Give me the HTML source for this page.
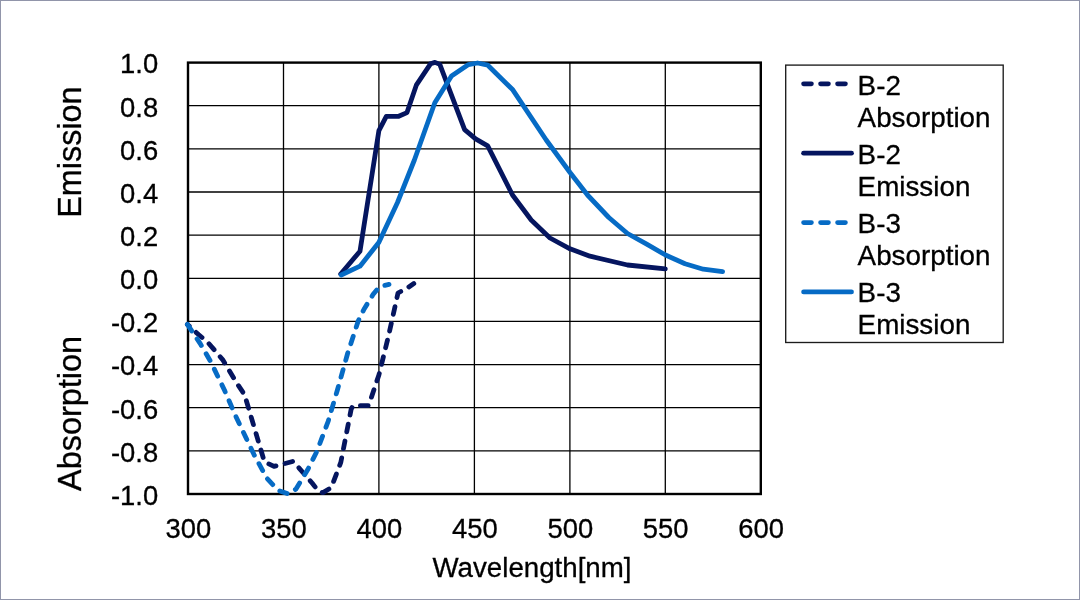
<!DOCTYPE html>
<html lang="en"><head><meta charset="utf-8"><title>Emission / Absorption spectra</title>
<style>
html,body{margin:0;padding:0;background:#fff;}
body{width:1080px;height:600px;overflow:hidden;position:relative;}
svg{position:absolute;left:0;top:0;display:block;}
text{font-family:"Liberation Sans",Arial,sans-serif;fill:#000;stroke:#000;stroke-width:0.3px;}
.tk{font-size:27.4px;}
.yl{text-anchor:end;}
.xl{text-anchor:middle;}
.lg{font-size:27.8px;}
.ax{font-size:27.7px;text-anchor:middle;}
.ay{font-size:32.4px;text-anchor:middle;}
</style></head><body>
<svg width="1080" height="600" viewBox="0 0 1080 600">
<rect x="0" y="0" width="1080" height="600" fill="#fff"/>
<rect x="0.5" y="0.5" width="1079" height="599" fill="none" stroke="#9195aa" stroke-width="1"/>

<g stroke="#000" stroke-width="1.3" fill="none">
<line x1="283.5" y1="62.6" x2="283.5" y2="494.0"/>
<line x1="378.9" y1="62.6" x2="378.9" y2="494.0"/>
<line x1="474.4" y1="62.6" x2="474.4" y2="494.0"/>
<line x1="569.9" y1="62.6" x2="569.9" y2="494.0"/>
<line x1="665.3" y1="62.6" x2="665.3" y2="494.0"/>
<line x1="188.0" y1="105.7" x2="760.8" y2="105.7"/>
<line x1="188.0" y1="148.9" x2="760.8" y2="148.9"/>
<line x1="188.0" y1="192.0" x2="760.8" y2="192.0"/>
<line x1="188.0" y1="235.2" x2="760.8" y2="235.2"/>
<line x1="188.0" y1="278.3" x2="760.8" y2="278.3"/>
<line x1="188.0" y1="321.4" x2="760.8" y2="321.4"/>
<line x1="188.0" y1="364.6" x2="760.8" y2="364.6"/>
<line x1="188.0" y1="407.7" x2="760.8" y2="407.7"/>
<line x1="188.0" y1="450.9" x2="760.8" y2="450.9"/>
</g>
<rect x="188.0" y="62.6" width="572.8" height="431.4" fill="none" stroke="#000" stroke-width="2.4"/>
<g fill="none" stroke-linejoin="round" stroke-linecap="round" stroke-width="4.8">
<polyline stroke="#05155f" stroke-dasharray="7.8 9.35" stroke-dashoffset="5.3" points="187.4,324.4 198.5,334.6 207.8,342.3 222.6,359.6 236.4,382.5 244.6,394.8 264.4,461.8 274.0,466.4 293.1,461.3 312.1,483.0 318.5,491.2 323.0,492.6 331.3,487.5 340.8,462.4 351.2,409.0 353.0,405.8 368.6,405.6 378.9,375.0 388.5,336.0 398.0,293.0 407.6,287.8 413.8,283.5"/>
<polyline stroke="#05155f" points="340.7,274.0 360.0,251.2 378.9,130.6 386.3,116.3 398.7,116.3 407.0,112.6 416.3,85.2 430.5,63.8 435.0,62.4 439.8,64.4 464.6,129.6 475.6,138.8 487.7,145.8 512.5,195.0 531.2,220.0 550.0,238.0 570.0,248.8 590.0,256.2 627.5,265.0 665.3,268.9"/>
<polyline stroke="#066bc5" stroke-dasharray="7.8 9.63" points="187.4,324.4 200.4,343.9 210.6,361.5 224.4,390.0 235.6,415.9 254.1,454.8 267.0,478.4 278.1,490.3 288.5,494.0 296.0,489.0 307.8,469.6 317.0,451.1 328.1,421.5 337.4,390.0 347.6,353.5 358.3,320.8 364.0,309.2 373.0,294.6 378.3,288.0 382.0,286.0 389.0,284.4"/>
<polyline stroke="#066bc5" points="341.2,275.0 360.0,266.2 378.8,242.5 397.5,202.5 414.4,160.0 434.8,102.8 451.5,75.9 468.5,64.6 477.5,63.0 487.8,65.2 512.8,89.8 546.2,140.0 570.0,172.5 587.5,195.0 608.8,217.5 627.5,233.5 646.7,244.2 665.5,255.0 685.0,263.7 703.3,269.2 722.6,271.7"/>
</g>
<g class="tk yl">
<text x="158.2" y="73.4">1.0</text>
<text x="158.2" y="116.5">0.8</text>
<text x="158.2" y="159.7">0.6</text>
<text x="158.2" y="202.8">0.4</text>
<text x="158.2" y="246.0">0.2</text>
<text x="158.2" y="289.1">0.0</text>
<text x="158.2" y="332.2">-0.2</text>
<text x="158.2" y="375.4">-0.4</text>
<text x="158.2" y="418.5">-0.6</text>
<text x="158.2" y="461.7">-0.8</text>
<text x="158.2" y="504.8">-1.0</text>
</g>
<g class="tk xl">
<text x="188.4" y="538.4">300</text>
<text x="283.9" y="538.4">350</text>
<text x="379.3" y="538.4">400</text>
<text x="474.8" y="538.4">450</text>
<text x="570.3" y="538.4">500</text>
<text x="665.7" y="538.4">550</text>
<text x="761.2" y="538.4">600</text>
</g>
<text class="ax" x="532" y="577">Wavelength[nm]</text>
<text class="ay" transform="translate(81.4,152.1) rotate(-90)">Emission</text>
<text class="ay" transform="translate(81.4,413.5) rotate(-90)">Absorption</text>
<rect x="785.7" y="65.1" width="217.5" height="277.4" fill="#fff" stroke="#1c1c1c" stroke-width="1.35"/>
<g fill="none" stroke-linecap="round" stroke-width="4.8">
<line x1="803.6" y1="83.8" x2="846" y2="83.8" stroke="#05155f" stroke-dasharray="7.8 9.2"/>
<line x1="803.6" y1="153.2" x2="851.5" y2="153.2" stroke="#05155f"/>
<line x1="803.6" y1="222.6" x2="846" y2="222.6" stroke="#066bc5" stroke-dasharray="7.8 9.2"/>
<line x1="803.6" y1="291.9" x2="851.5" y2="291.9" stroke="#066bc5"/>
</g>
<g class="lg">
<text x="857.6" y="94.5">B-2</text><text x="857.6" y="126.5">Absorption</text>
<text x="857.6" y="163.7">B-2</text><text x="857.6" y="195.7">Emission</text>
<text x="857.6" y="232.9">B-3</text><text x="857.6" y="264.9">Absorption</text>
<text x="857.6" y="302.1">B-3</text><text x="857.6" y="334.1">Emission</text>
</g>
</svg></body></html>
